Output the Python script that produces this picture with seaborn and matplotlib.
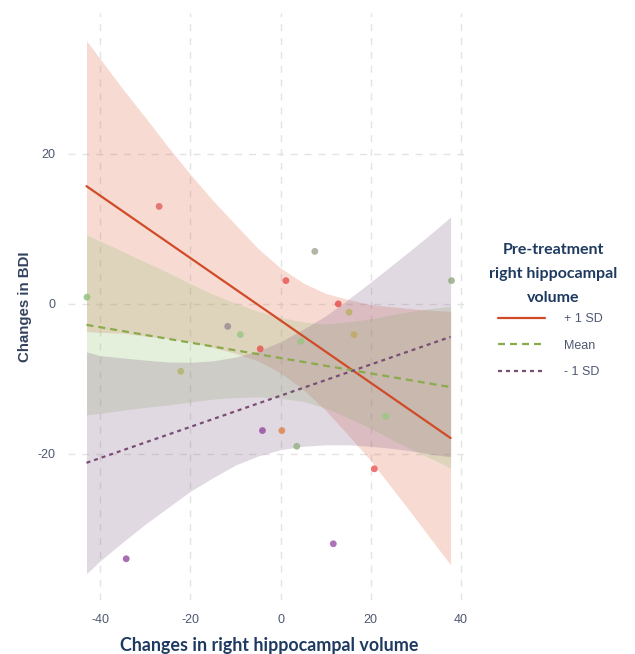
import numpy as np
import pandas as pd
import matplotlib
matplotlib.use("Agg")
import matplotlib.pyplot as plt
import seaborn as sns
from matplotlib.lines import Line2D

# ---------------- data ----------------
# scatter points (change in right hippocampal volume, change in BDI)
pt_x = [-42.9, -26.9, -11.7, -8.9, -4.5, -22.1, -4.0, 0.3, 3.6, -34.2,
        11.7, 20.8, 7.6, 1.2, 12.8, 15.2, 37.9, 16.3, 4.5, 23.3]
pt_y = [0.9, 13.0, -3.0, -4.1, -6.0, -9.0, -16.9, -16.9, -19.0, -34.0,
        -32.0, -22.0, 7.0, 3.1, 0.0, -1.1, 3.1, -4.1, -5.0, -15.0]
pt_color = ["#8cc07a", "#e0605a", "#9a8890", "#98c484", "#e85050", "#b0b468",
            "#9048a0", "#e0804a", "#90b080", "#9448a4", "#9a50a8", "#ee5050",
            "#a0a090", "#e85050", "#e84848", "#b8b060", "#90a880", "#c0a860",
            "#98c480", "#98c880"]

# simple slopes (line endpoints)
line_x = [-43.0, 37.7]
plus_sd_y = [15.7, -17.9]
mean_y = [-2.8, -11.1]
minus_sd_y = [-21.2, -4.4]

# confidence bands read at these x positions
band_x = [-43.0, -40.0, -35.0, -30.0, -25.0, -20.0, -15.0, -10.0, -5.0,
          0.0, 5.0, 10.0, 15.0, 20.0, 25.0, 30.0, 35.0, 37.7]
plus_sd_hi = [35.1, 32.7, 28.7, 24.9, 21.0, 17.3, 13.8, 10.6, 7.4,
              4.8, 2.8, 1.4, 0.6, -0.1, -0.4, -0.7, -0.9, -1.0]
plus_sd_lo = [-3.7, -3.8, -3.9, -4.3, -4.6, -5.1, -5.8, -6.6, -7.6,
              -9.2, -11.4, -14.2, -17.5, -20.9, -24.8, -28.7, -32.7, -34.8]
mean_hi = [9.2, 8.4, 7.0, 5.6, 4.2, 2.7, 1.3, 0.1, -1.0,
           -1.8, -2.4, -2.7, -2.4, -2.0, -1.4, -0.9, -0.5, -0.3]
mean_lo = [-14.8, -14.6, -14.2, -13.8, -13.5, -13.1, -12.7, -12.5, -12.4,
           -12.6, -13.0, -13.9, -15.2, -16.6, -18.2, -19.7, -21.1, -21.9]
minus_sd_hi = [-6.4, -6.9, -7.2, -7.5, -7.75, -7.8, -7.6, -7.1, -6.3,
               -5.05, -3.4, -1.6, 0.6, 2.9, 5.3, 7.7, 10.2, 11.6]
minus_sd_lo = [-36.0, -34.3, -31.8, -29.4, -27.2, -25.0, -23.2, -21.5, -20.3,
               -19.45, -19.0, -18.8, -18.8, -19.0, -19.3, -19.7, -20.2, -20.4]

levels = ["+ 1 SD", "Mean", "- 1 SD"]
x_ticks = [-40, -20, 0, 20, 40]
y_ticks = [-20, 0, 20]

# ---------------- style ----------------
sns.set_theme(style="white")
plt.rcParams["font.family"] = ["Liberation Sans", "DejaVu Sans"]
plt.rcParams["axes.unicode_minus"] = False

LW = 1.6
line_col = {"+ 1 SD": "#d14b28", "Mean": "#8aaa4c", "- 1 SD": "#7a4e74"}
fill_col = {"+ 1 SD": "#de6a48", "Mean": "#90c070", "- 1 SD": "#846088"}
dash = {"+ 1 SD": None, "Mean": (3.15, 2.25), "- 1 SD": (1.8, 1.8)}

fig = plt.figure(figsize=(6.35, 6.54), dpi=100)
ax = fig.add_axes([68 / 635, 1 - 600 / 654, (470 - 68) / 635, (600 - 13) / 654])

# grid
for xv in x_ticks:
    ax.axvline(xv, color="#e3e3e3", lw=1.0, ls=(0, (5, 5)), zorder=0)
for yv in y_ticks:
    ax.axhline(yv, color="#e3e3e3", lw=1.0, ls=(0, (5, 5)), zorder=0)

# bands
bands = {"+ 1 SD": (plus_sd_lo, plus_sd_hi), "Mean": (mean_lo, mean_hi),
         "- 1 SD": (minus_sd_lo, minus_sd_hi)}
for lv in levels:
    lo, hi = bands[lv]
    ax.fill_between(band_x, lo, hi, color=fill_col[lv], alpha=0.24, lw=0, zorder=1)

# points
pts = pd.DataFrame({"x": pt_x, "y": pt_y, "c": pt_color})
sns.scatterplot(data=pts, x="x", y="y", hue="c", palette={c: c for c in pt_color},
                s=24, alpha=0.8, edgecolor="none", legend=False, ax=ax, zorder=3)

# lines
lines_df = pd.DataFrame({
    "x": line_x * 3,
    "y": plus_sd_y + mean_y + minus_sd_y,
    "level": [levels[0]] * 2 + [levels[1]] * 2 + [levels[2]] * 2,
})
sns.lineplot(data=lines_df, x="x", y="y", hue="level", style="level",
             palette=line_col, dashes={k: ("" if v is None else v) for k, v in dash.items()},
             linewidth=LW, legend=False, ax=ax, zorder=4)

ax.set_xlim(-47.1, 42.0)
ax.set_ylim(-39.5, 38.8)
ax.set_xticks(x_ticks)
ax.set_yticks(y_ticks)
ax.tick_params(axis="both", length=0, labelsize=9, labelcolor="#4d5870")
ax.tick_params(axis="x", pad=10)
ax.tick_params(axis="y", pad=9)
for s in ax.spines.values():
    s.set_visible(False)
ax.grid(False)

ax.set_ylabel("Changes in BDI", fontsize=10.8, fontweight="bold", color="#33425e",
              family=["Liberation Sans", "DejaVu Sans"])
ax.yaxis.set_label_coords((32 - 68) / 402, 0.5)
ax.set_xlabel("Changes in right hippocampal volume", fontsize=12.9, fontweight="bold",
              color="#1f3a60", family=["Lato", "DejaVu Sans"])
ax.xaxis.set_label_coords(0.5, (600 - 637) / 587)

# legend
fig.text(553 / 635, 1 - 243 / 654, "Pre-treatment\nright hippocampal\nvolume",
         ha="center", va="top", fontsize=11.5, fontweight="bold", color="#1f3a60",
         family=["Lato", "DejaVu Sans"], linespacing=1.9)
handles = []
for lv in levels:
    if dash[lv] is None:
        h = Line2D([0], [0], color=line_col[lv], lw=LW)
    else:
        h = Line2D([0], [0], color=line_col[lv], lw=LW, dashes=dash[lv])
    handles.append(h)
leg = fig.legend(handles, levels, loc="upper left",
                 bbox_to_anchor=(487 / 635, 1 - 302 / 654),
                 frameon=False, fontsize=9, handlelength=3.75, handletextpad=1.5,
                 labelspacing=1.15, borderpad=0.4)
for t in leg.get_texts():
    t.set_color("#4d5870")

fig.savefig("out.png", dpi=100)
